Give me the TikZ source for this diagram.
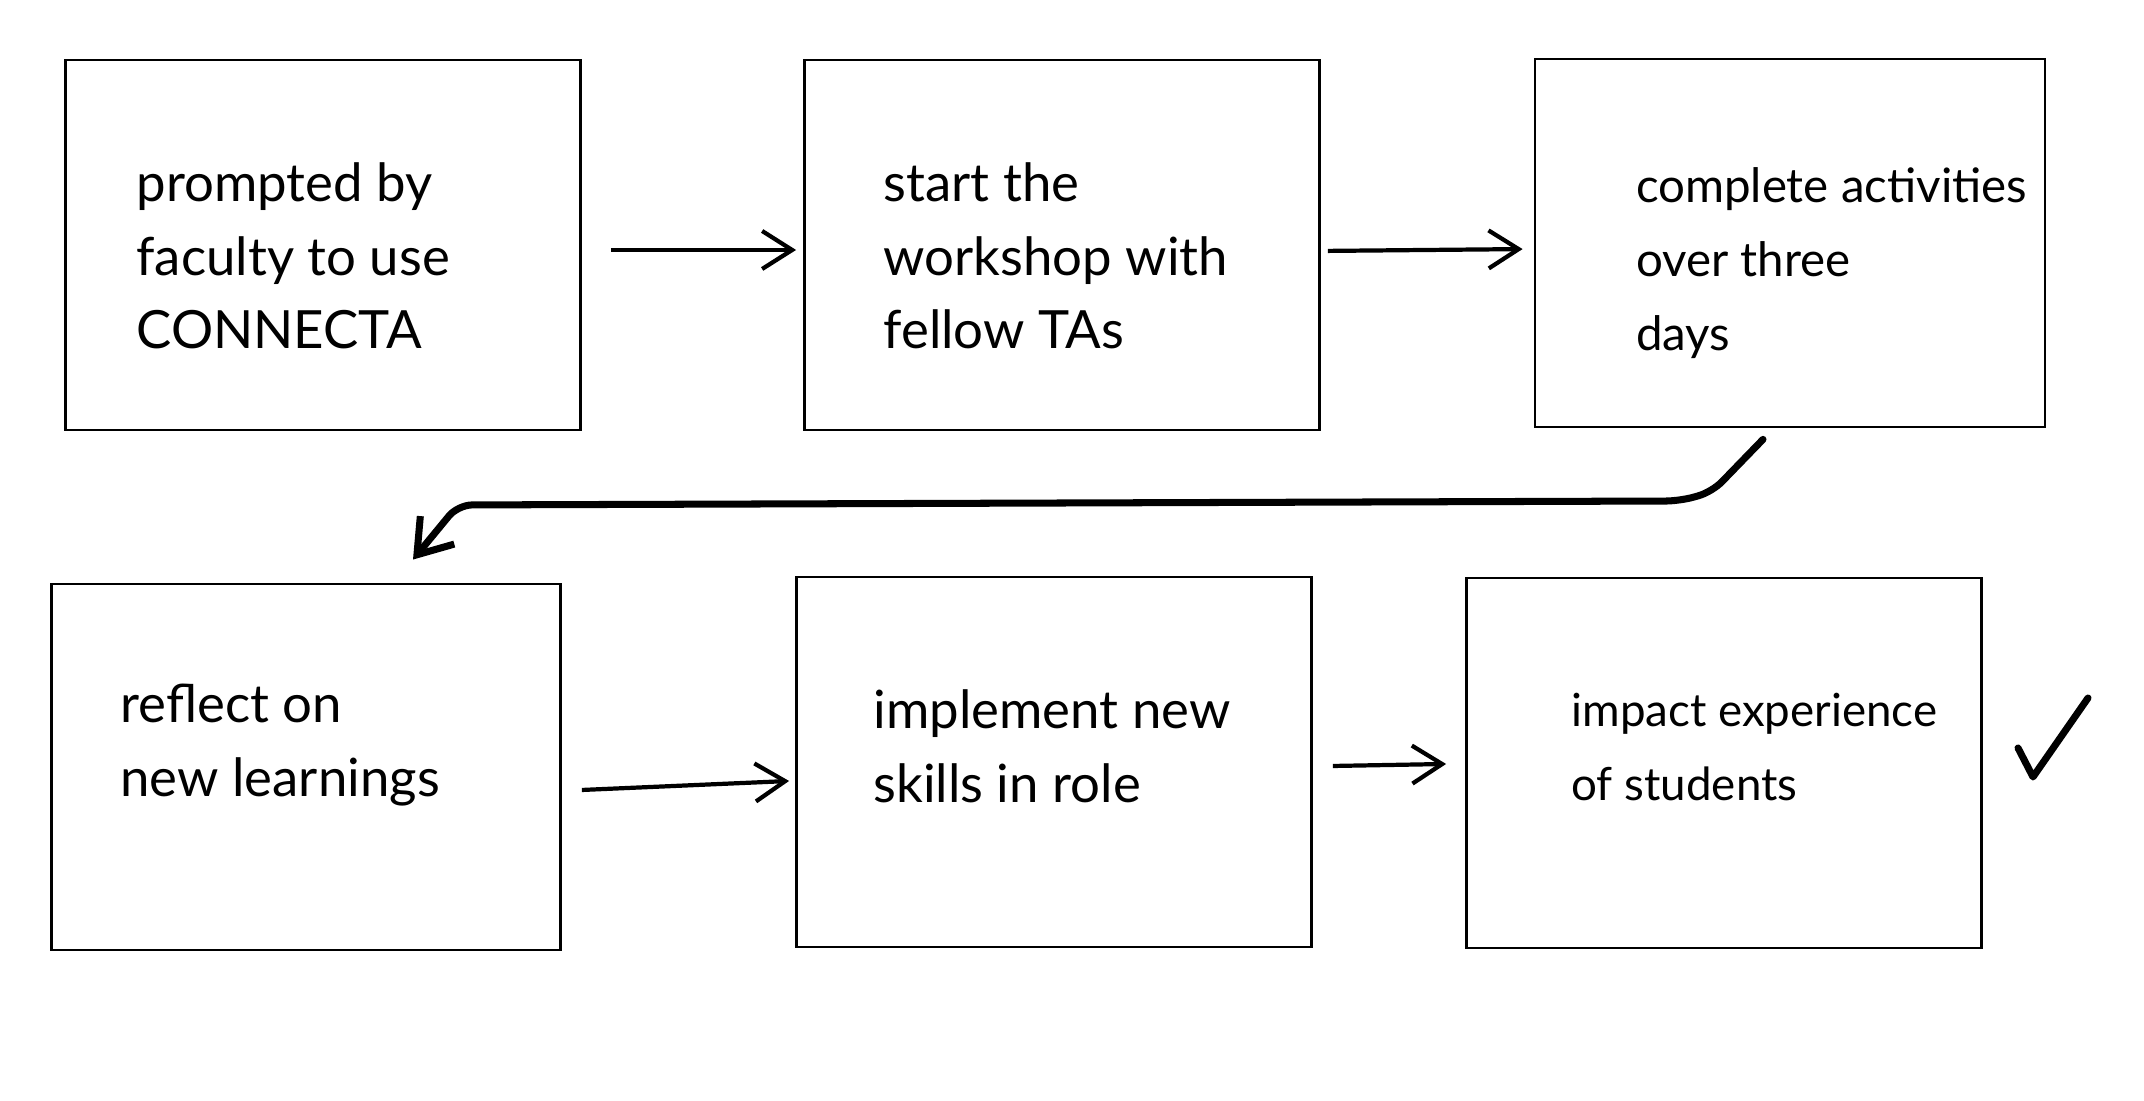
\documentclass[tikz,border=0pt]{standalone}
\usepackage{fontspec}
\setmainfont{Lato}
\usetikzlibrary{arrows.meta}

\begin{document}
\begin{tikzpicture}[>={Straight Barb[length=3mm,width=3.8mm]},
  box/.style={draw, line width=0.8pt, minimum width=5.15cm, minimum height=3.7cm},
  note/.style={align=left, anchor=west, font=\fontsize{15}{21}\selectfont},
  flow/.style={->, line width=1.2pt}]
  \useasboundingbox (0,0) rectangle (21.44,11.01);
  \node[box] (b1) at (3.23,8.56) {};
  \node[box] (b2) at (10.62,8.56) {};
  \node[box, minimum width=5.1cm, minimum height=3.68cm] (b3) at (17.9,8.58) {};
  \node[box, minimum width=5.09cm, minimum height=3.66cm] (b4) at (3.06,3.34) {};
  \node[box] (b5) at (10.54,3.39) {};
  \node[box] (b6) at (17.24,3.38) {};
  \node[note] (t1) at ([shift={(0.6,-0.11)}]b1.west) {prompted by\\faculty to use\\CONNECTA};
  \node[note] (t2) at ([shift={(0.68,-0.11)}]b2.west) {start the\\workshop with\\fellow TAs};
  \node[note, font=\fontsize{13.5}{21}\selectfont] (t3) at ([shift={(0.9,-0.2)}]b3.west) {complete activities\\over three\\days};
  \node[note] (t4) at ([shift={(0.58,0.22)}]b4.west) {reflect on\\new learnings};
  \node[note] (t5) at ([shift={(0.66,0.16)}]b5.west) {implement new\\skills in role};
  \node[note, font=\fontsize{13}{21}\selectfont] (t6) at ([shift={(0.94,0.16)}]b6.west) {impact experience\\of students};
  \draw[flow, shorten <=0.29cm, shorten >=0.07cm] ([yshift=-0.05cm]b1.east) -- ([yshift=-0.05cm]b2.west);
  \draw[flow, shorten <=0.07cm, shorten >=0.11cm] ([yshift=-0.06cm]b2.east) -- ([yshift=-0.06cm]b3.west);
  \draw[flow] ([shift={(0.2,-0.23)}]b4.east) -- ([shift={(-0.06,-0.19)}]b5.west);
  \draw[flow] ([shift={(0.2,-0.04)}]b5.east) -- ([shift={(-0.19,-0.01)}]b6.west);
  \coordinate (c3) at ([shift={(-0.27,-0.11)}]b3.south);
  \coordinate (c4) at ([shift={(1.07,0.23)}]b4.north);
  \draw[->, line width=2pt, line cap=round, rounded corners=4pt,
    >={Straight Barb[length=3.2mm,width=4.4mm]}]
    (c3) -- (17.12,6.09) -- (16.8,6.0) -- (4.58,5.96) -- (c4);
  \draw[line width=2pt, line cap=round, line join=round] (20.18,3.53) -- (20.33,3.24) -- (20.88,4.03);
\end{tikzpicture}
\end{document}
